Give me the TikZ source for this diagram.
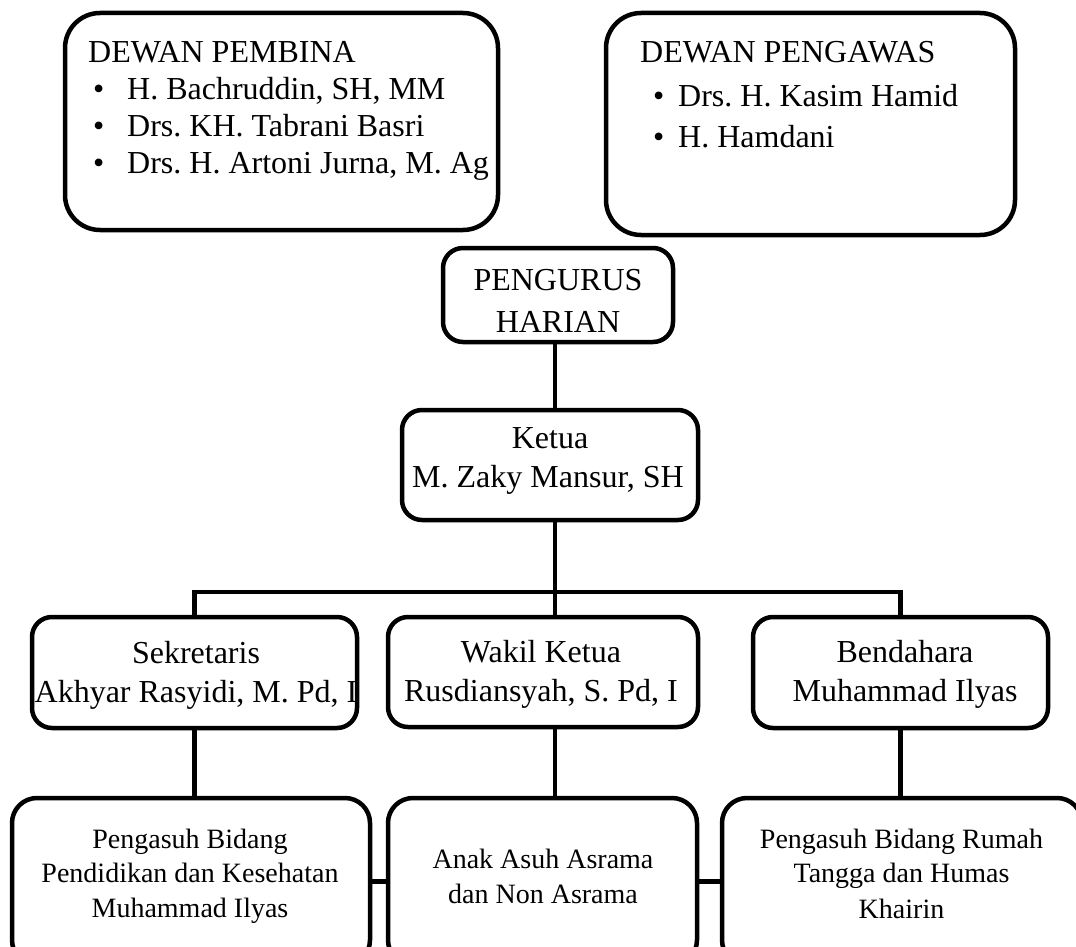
\documentclass[tikz,border=0pt]{standalone}
\usepackage{fontspec}
\setmainfont{Liberation Serif}
\frenchspacing

\begin{document}
\begin{tikzpicture}[x=1pt, y=-1pt,
  orgbox/.style={draw, line width=4.5pt, rounded corners=#1, inner sep=0pt},
  orgbox/.default=20pt,
  conn/.style={line width=4.5pt},
  lbl/.style={anchor=base, inner sep=0pt, font=\fontsize{32}{37}\selectfont},
  lblsmall/.style={anchor=base, inner sep=0pt, font=\fontsize{28}{34}\selectfont}]
% Frame
\useasboundingbox (0,0) rectangle (1076,947);
\clip (0,0) rectangle (1076,947);
% Boxes
\node[orgbox=35pt, minimum width=433pt, minimum height=217pt] (pembina) at (281.5,121.5) {};
\node[orgbox=35pt, minimum width=409pt, minimum height=222pt] (pengawas) at (810.5,124) {};
\node[orgbox, minimum width=230pt, minimum height=94pt] (harian) at (558,295) {};
\node[orgbox, minimum width=296pt, minimum height=110pt] (ketua) at (550,465) {};
\node[orgbox, minimum width=325pt, minimum height=111pt] (sekretaris) at (194.5,672.5) {};
\node[orgbox, minimum width=310pt, minimum height=110pt] (wakil) at (543,672) {};
\node[orgbox, minimum width=295pt, minimum height=111pt] (bendahara) at (900.5,672.5) {};
\node[orgbox=25pt, minimum width=358pt, minimum height=167pt] (pendidikan) at (191,881.5) {};
\node[orgbox=25pt, minimum width=309pt, minimum height=167pt] (asuh) at (542.5,881.5) {};
\node[orgbox=25pt, minimum width=360pt, minimum height=167pt] (rumah) at (902,881.5) {};
% Connectors
\coordinate (bus) at (555,592);
\draw[conn] (harian.south -| bus) -- (ketua.north -| bus);
\draw[conn] (ketua.south -| bus) -- (bus |- wakil.north);
\draw[conn] (sekretaris.north) |- (bus) -| (bendahara.north);
\draw[conn] (sekretaris.south) -- (pendidikan.north -| sekretaris.south);
\draw[conn] (wakil.south -| bus) -- (asuh.north -| bus);
\draw[conn] (bendahara.south) -- (rumah.north -| bendahara.south);
\draw[conn] (pendidikan.east) -- (asuh.west);
\draw[conn] (asuh.east) -- (rumah.west);
% Dewan pembina
\node[lbl, anchor=base west] (pembinahead) at (88,63) {DEWAN PEMBINA};
\foreach \y/\t [count=\i] in {100/{H. Bachruddin, SH, MM}, 137/{Drs. KH. Tabrani Basri}, 173/{Drs. H. Artoni Jurna, M. Ag}} {
  \node[lbl, anchor=base west] (pembinadot\i) at (93,\y) {\textbullet};
  \node[lbl, anchor=base west] (pembinaitem\i) at (127,\y) {\t};
}
% Dewan pengawas
\node[lbl, anchor=base west] (pengawashead) at (640,63) {DEWAN PENGAWAS};
\foreach \y/\t [count=\i] in {107/{Drs. H. Kasim Hamid}, 148/{H. Hamdani}} {
  \node[lbl, anchor=base west] (pengawasdot\i) at (653,\y) {\textbullet};
  \node[lbl, anchor=base west] (pengawasitem\i) at (678,\y) {\t};
}
% Pengurus harian
\node[lbl] (harian1) at (558,290) {PENGURUS};
\node[lbl] (harian2) at (558,332) {HARIAN};
\node[lbl] (ketua1) at (550,448) {Ketua};
\node[lbl] (ketua2) at (548,487) {M. Zaky Mansur, SH};
\node[lbl] (sekretaris1) at (196,663) {Sekretaris};
\node[lbl] (sekretaris2) at (196,702) {Akhyar Rasyidi, M. Pd, I};
\node[lbl] (wakil1) at (541,662) {Wakil Ketua};
\node[lbl] (wakil2) at (541,701) {Rusdiansyah, S. Pd, I};
\node[lbl] (bendahara1) at (905,662) {Bendahara};
\node[lbl] (bendahara2) at (905,701) {Muhammad Ilyas};
% Bidang
\node[lblsmall] (pendidikan1) at (190,848) {Pengasuh Bidang};
\node[lblsmall] (pendidikan2) at (190,882) {Pendidikan dan Kesehatan};
\node[lblsmall] (pendidikan3) at (190,917) {Muhammad Ilyas};
\node[lblsmall] (asuh1) at (543,868) {Anak Asuh Asrama};
\node[lblsmall] (asuh2) at (543,903) {dan Non Asrama};
\node[lblsmall] (rumah1) at (901.5,848) {Pengasuh Bidang Rumah};
\node[lblsmall] (rumah2) at (901.5,882) {Tangga dan Humas};
\node[lblsmall] (rumah3) at (901.5,918) {Khairin};
\end{tikzpicture}
\end{document}
